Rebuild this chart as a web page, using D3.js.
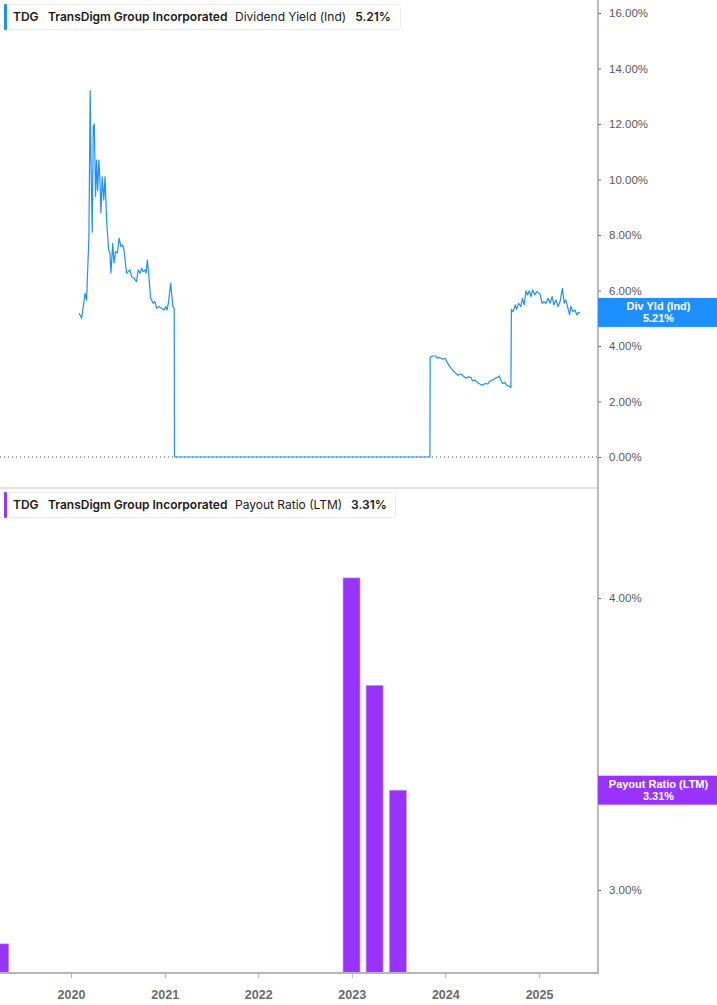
<!DOCTYPE html>
<html>
<head>
<meta charset="utf-8">
<script src="https://cdn.jsdelivr.net/npm/d3@7"></script>
<style>
  body { margin: 0; background: #fff; }
  svg { display: block; }
</style>
</head>
<body>
<svg id="chart" width="717" height="1005"></svg>
<script>
// dividend yield (ind), %
const yieldDates = [
  "2020-02-02","2020-02-12","2020-02-25","2020-03-02","2020-03-08","2020-03-11","2020-03-16","2020-03-19",
  "2020-03-24","2020-03-28","2020-04-01","2020-04-06","2020-04-10","2020-04-14","2020-04-19","2020-04-23",
  "2020-04-27","2020-05-02","2020-05-08","2020-05-13","2020-05-19","2020-05-27","2020-06-01","2020-06-05",
  "2020-06-12","2020-06-17","2020-06-23","2020-06-30","2020-07-07","2020-07-14","2020-07-21","2020-07-26",
  "2020-08-05","2020-08-11","2020-08-18","2020-08-25","2020-09-03","2020-09-13","2020-09-19","2020-09-26",
  "2020-10-03","2020-10-09","2020-10-16","2020-10-20","2020-10-25","2020-10-30","2020-11-07","2020-11-17",
  "2020-11-24","2020-11-30","2020-12-09","2020-12-20","2020-12-29","2021-01-05","2021-01-10","2021-01-16",
  "2021-01-24","2021-01-29","2021-02-02","2021-02-07","2021-02-08","2023-11-02",
  "2023-11-03","2023-11-12","2023-11-25","2023-12-01","2023-12-10","2023-12-21","2023-12-31","2024-01-10",
  "2024-01-23","2024-02-05","2024-02-18","2024-03-02","2024-03-11","2024-03-22","2024-04-01","2024-04-10",
  "2024-04-16","2024-04-27","2024-05-06","2024-05-15","2024-05-25","2024-06-05","2024-06-14","2024-06-23",
  "2024-07-03","2024-07-14","2024-07-23","2024-07-30","2024-08-05","2024-08-11","2024-08-21","2024-08-28",
  "2024-09-04","2024-09-13","2024-09-15","2024-09-22","2024-09-30","2024-10-05","2024-10-13","2024-10-22",
  "2024-10-28","2024-11-04","2024-11-11","2024-11-17","2024-11-24","2024-11-30","2024-12-07","2024-12-15",
  "2024-12-23","2025-01-05","2025-01-13","2025-01-20","2025-01-28","2025-02-05","2025-02-13","2025-02-21",
  "2025-02-28","2025-03-08","2025-03-16","2025-03-24","2025-04-02","2025-04-09","2025-04-15","2025-04-23",
  "2025-04-30","2025-05-05","2025-05-13","2025-05-21","2025-05-29","2025-06-04","2025-06-10"
];
const yieldValues = [
  5.18, 5.00, 5.90, 5.65, 7.17, 7.94, 13.2, 10.7,
  8.10, 11.9, 12.0, 9.40, 10.7, 9.60, 10.7, 10.0,
  8.80, 10.1, 9.26, 10.1, 8.54, 7.46, 7.35, 6.63,
  7.70, 6.99, 7.40, 7.35, 7.89, 7.58, 7.64, 7.46,
  6.62, 6.68, 6.74, 6.50, 6.44, 6.32, 6.74, 6.62,
  6.80, 6.68, 6.74, 6.62, 7.10, 6.62, 5.72, 5.54,
  5.60, 5.36, 5.42, 5.36, 5.30, 5.42, 5.30, 5.60,
  6.26, 5.78, 5.42, 5.36, 0.00, 0.00,
  3.59, 3.64, 3.64, 3.56, 3.59, 3.52, 3.56, 3.38,
  3.20, 3.07, 2.95, 2.99, 2.92, 2.84, 2.89, 2.87,
  2.75, 2.77, 2.68, 2.63, 2.59, 2.65, 2.63, 2.74,
  2.77, 2.84, 2.87, 2.92, 2.77, 2.65, 2.68, 2.59,
  2.56, 2.50, 5.32, 5.24, 5.48, 5.32, 5.54, 5.42,
  5.72, 5.48, 5.99, 5.84, 5.99, 5.78, 6.02, 5.84,
  5.96, 5.87, 5.54, 5.60, 5.54, 5.72, 5.54, 5.78,
  5.48, 5.66, 5.42, 5.60, 6.08, 5.54, 5.66, 5.39,
  5.12, 5.42, 5.24, 5.30, 5.12, 5.20, 5.21
];

// payout ratio (LTM), % — quarterly bars
const payoutDates  = ["2019-03-31", "2022-12-31", "2023-03-31", "2023-06-30"];
const payoutValues = [2.845, 4.08, 3.67, 3.31];

const yearTicks   = ["2020", "2021", "2022", "2023", "2024", "2025"];
const yieldTicks  = [0, 2, 4, 6, 8, 10, 12, 14, 16];
const payoutTicks = [3, 4];

const ticker      = "TDG";
const company     = "TransDigm Group Incorporated";
const topField    = "Dividend Yield (Ind)";
const topLast     = "5.21%";
const topTag      = "Div Yld (Ind)";
const botField    = "Payout Ratio (LTM)";
const botLast     = "3.31%";
const botTag      = "Payout Ratio (LTM)";

const BLUE   = "#1e8fff";
const PURPLE = "#9933ff";
const axisX  = 598;

const parse = d3.timeParse("%Y-%m-%d");
const svg = d3.select("#chart");

const x = d3.scaleTime()
  .domain([parse("2019-03-30"), parse("2025-08-19")])
  .range([0, axisX]);

const yTop = d3.scaleLinear().domain([0, 16]).range([457, 13]);
const yBot = d3.scaleLog().domain([3, 4]).range([890, 598]);
const botBase = 973;

const yieldData = yieldDates.map((d, i) => ({ date: parse(d), v: yieldValues[i] }));
const payoutData = payoutDates.map((d, i) => ({ date: parse(d), v: payoutValues[i] }));

// panel separator
svg.append("line")
  .attr("x1", 0).attr("x2", axisX).attr("y1", 488).attr("y2", 488)
  .attr("stroke", "#e2e2e2").attr("stroke-width", 2);

// zero line (dotted)
svg.append("line")
  .attr("x1", 0).attr("x2", axisX).attr("y1", yTop(0)).attr("y2", yTop(0))
  .attr("stroke", "#555").attr("stroke-width", 1).attr("stroke-dasharray", "1,3");

// 1) dividend yield line
svg.append("path")
  .datum(yieldData)
  .attr("fill", "none")
  .attr("stroke", BLUE)
  .attr("stroke-width", 1.2)
  .attr("stroke-linejoin", "round")
  .attr("d", d3.line().x(d => x(d.date)).y(d => yTop(d.v)));

// 2) payout bars
svg.append("g").selectAll("rect")
  .data(payoutData).enter().append("rect")
    .attr("x", d => x(d.date) - 8.5)
    .attr("y", d => yBot(d.v))
    .attr("width", 17)
    .attr("height", d => botBase - yBot(d.v))
    .attr("fill", PURPLE)
    .attr("stroke", "#c79bff")
    .attr("stroke-width", 0.6);

// right axes
const axisFont = "'Liberation Sans', Arial, sans-serif";

const topAxis = svg.append("g")
  .attr("transform", `translate(${axisX},0)`)
  .call(d3.axisRight(yTop).tickValues(yieldTicks).tickSize(3).tickPadding(8)
    .tickFormat(d => d3.format(".2f")(d) + "%"));

const botAxis = svg.append("g")
  .attr("transform", `translate(${axisX},0)`)
  .call(d3.axisRight(yBot).tickValues(payoutTicks).tickSize(3).tickPadding(8)
    .tickFormat(d => d3.format(".2f")(d) + "%"));

[topAxis, botAxis].forEach(g => {
  g.select(".domain").remove();
  g.selectAll("line").attr("stroke", "#666");
  g.selectAll("text")
    .attr("fill", "#5a5a5a")
    .style("font-family", axisFont)
    .style("font-size", "11.5px");
});

svg.append("line")
  .attr("x1", axisX).attr("x2", axisX).attr("y1", 0).attr("y2", botBase)
  .attr("stroke", "#a6a6a6").attr("stroke-width", 1.5);

// bottom time axis
const xAxis = svg.append("g")
  .attr("transform", `translate(0,${botBase})`)
  .call(d3.axisBottom(x).tickValues(yearTicks.map(y => parse(y + "-01-01")))
    .tickSize(5).tickPadding(12).tickFormat(d3.timeFormat("%Y")));
xAxis.select(".domain").remove();
xAxis.selectAll("line").attr("stroke", "#b0b0b0").attr("stroke-width", 1);
xAxis.selectAll("text")
  .attr("fill", "#6a6a6a")
  .style("font-family", axisFont)
  .style("font-weight", "bold")
  .style("font-size", "12.5px");

svg.append("line")
  .attr("x1", 0).attr("x2", axisX + 0.75).attr("y1", botBase).attr("y2", botBase)
  .attr("stroke", "#b5b5b5").attr("stroke-width", 2);

// legends
const legFont = "Inter, 'Noto Sans', sans-serif";
function legend(y, w, color, field, last) {
  const g = svg.append("g").attr("transform", `translate(4,${y})`);
  g.append("rect")
    .attr("x", 0.5).attr("y", 0.5).attr("width", w).attr("height", 25)
    .attr("rx", 3).attr("fill", "#fff").attr("stroke", "#ececec");
  g.append("rect")
    .attr("x", 0).attr("y", 0).attr("width", 3).attr("height", 26)
    .attr("rx", 1).attr("fill", color);
  const t = g.append("text")
    .attr("y", 17)
    .style("font-family", legFont)
    .style("font-size", "12px")
    .attr("fill", "#1a1a1a");
  t.append("tspan").attr("x", 9).style("font-weight", "600").text(ticker);
  t.append("tspan").attr("x", 44).style("font-weight", "600").text(company);
  t.append("tspan").attr("x", 231).style("font-weight", "400").text(field);
  t.append("tspan").attr("dx", 9).style("font-weight", "600").text(last);
}
legend(4, 396, BLUE, topField, topLast);
legend(492, 391, PURPLE, botField, botLast);

// right-side value tags
function tag(yc, color, label, value) {
  const g = svg.append("g").attr("transform", `translate(${axisX},${yc})`);
  g.append("rect")
    .attr("x", 0).attr("y", -14.5).attr("width", 717 - axisX).attr("height", 29)
    .attr("fill", color);
  g.append("text")
    .attr("x", (717 - axisX) / 2 + 1).attr("y", -2)
    .attr("text-anchor", "middle")
    .attr("fill", "#fff")
    .style("font-family", axisFont)
    .style("font-weight", "bold")
    .style("font-size", "11px")
    .text(label);
  g.append("text")
    .attr("x", (717 - axisX) / 2 + 1).attr("y", 10)
    .attr("text-anchor", "middle")
    .attr("fill", "#fff")
    .style("font-family", axisFont)
    .style("font-weight", "bold")
    .style("font-size", "11px")
    .text(value);
}
tag(yTop(5.21), BLUE, topTag, topLast);
tag(yBot(3.31), PURPLE, botTag, botLast);
</script>
</body>
</html>
